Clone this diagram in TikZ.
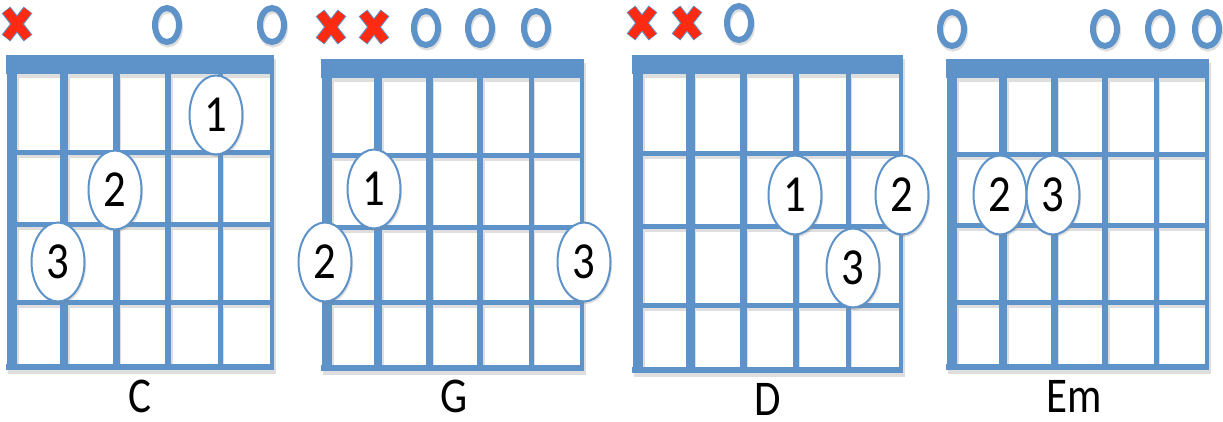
\documentclass[tikz,border=0pt]{standalone}
\usepackage{fontspec}
\setmainfont{Carlito}
\newfontfamily\narrowfont[FakeStretch=0.86]{Carlito}
\usetikzlibrary{shapes.geometric,shadows}
\definecolor{fb}{HTML}{5E93C9}
\definecolor{xr}{HTML}{FF2A12}
\colorlet{gridshadow}{black!13}
% #1 colour, #2 x of first string, #3 string spacing, #4 nut top, #5 #6 #7 fret lines, #8 bottom line
\newcommand{\chordraw}[8]{%
  \fill[#1] ({#2-6},{#4}) rectangle ({#2+5*#3+2},{#4+19});
  \foreach \i/\w in {0/10.5,1/8.5,2/7,3/6,4/5,5/4}
    \draw[#1, line width=\w] ({#2+\i*#3},{#4+18}) -- ({#2+\i*#3},{#8+3});
  \foreach \f in {#5,#6,#7}
    \draw[#1, line width=5] ({#2},{\f}) -- ({#2+5*#3},{\f});
  \draw[#1, line width=6] ({#2-6},{#8}) -- ({#2+5*#3+2},{#8});
}
\newcommand{\chordgrid}[7]{%
  \begin{scope}[shift={(1.5,3.5)}]\chordraw{gridshadow}{#1}{#2}{#3}{#4}{#5}{#6}{#7}\end{scope}
  \chordraw{fb}{#1}{#2}{#3}{#4}{#5}{#6}{#7}
}
\newcommand{\openmark}[2]{%
  \draw[gridshadow, line width=6] ({#1+1},{#2+2.5}) ellipse [x radius=12, y radius=17];
  \draw[fb, line width=6] (#1,#2) ellipse [x radius=12, y radius=17];}
\newcommand{\mutemark}[2]{%
  \draw[fb, line width=11] ({#1-11},{#2-14}) -- ({#1+11},{#2+14})
                           ({#1-11},{#2+14}) -- ({#1+11},{#2-14});
  \draw[xr, line width=9] ({#1-10.6},{#2-13.5}) -- ({#1+10.6},{#2+13.5})
                           ({#1-10.6},{#2+13.5}) -- ({#1+10.6},{#2-13.5});}
\tikzset{
  finger/.style={ellipse, draw=fb, line width=2, fill=white,
    minimum width=53, minimum height=79, inner sep=0,
    font=\narrowfont\fontsize{52}{52}\selectfont,
    drop shadow={opacity=0.25, shadow xshift=1.5pt, shadow yshift=-2.5pt}},
  chordname/.style={font=\narrowfont\fontsize{50}{50}\selectfont, inner sep=0}
}
\begin{document}
\begin{tikzpicture}[x=1pt,y=-1pt]
\useasboundingbox (0,0) rectangle (1223,421);
\fill[white] (0,0) rectangle (1223,421);
% C
\chordgrid{12}{52}{55}{152}{224}{302}{367}
\mutemark{17}{24}
\openmark{167}{25}
\openmark{272}{25}
\node[finger] (c1) at (216,115) {1};
\node[finger] (c2) at (115,190) {2};
\node[finger] (c3) at (58,262) {3};
\node[chordname] (cn) at (140,396) {C};
% G
\chordgrid{327}{51}{59}{155}{227}{302}{368}
\mutemark{331}{27}
\mutemark{374}{27}
\openmark{426}{28}
\openmark{480}{28}
\openmark{536}{28}
\node[finger] (g1) at (374,189) {1};
\node[finger] (g2) at (325,262) {2};
\node[finger] (g3) at (584,262) {3};
\node[chordname] (gn) at (454,396) {G};
% D
\chordgrid{638}{52.6}{55}{153}{226}{305}{370}
\mutemark{642}{23}
\mutemark{687}{23}
\openmark{739}{23}
\node[finger] (d1) at (795,195) {1};
\node[finger] (d2) at (902,195) {2};
\node[finger] (d3) at (853,268) {3};
\node[chordname] (dn) at (768,399) {D};
% Em
\chordgrid{952}{51}{59}{154}{225}{302}{367}
\openmark{952}{29}
\openmark{1105}{29}
\openmark{1160}{29}
\openmark{1207}{29}
\node[finger] (e2) at (1000,195) {2};
\node[finger] (e3) at (1053,195) {3};
\node[chordname] (en) at (1074,396) {Em};
\end{tikzpicture}
\end{document}
